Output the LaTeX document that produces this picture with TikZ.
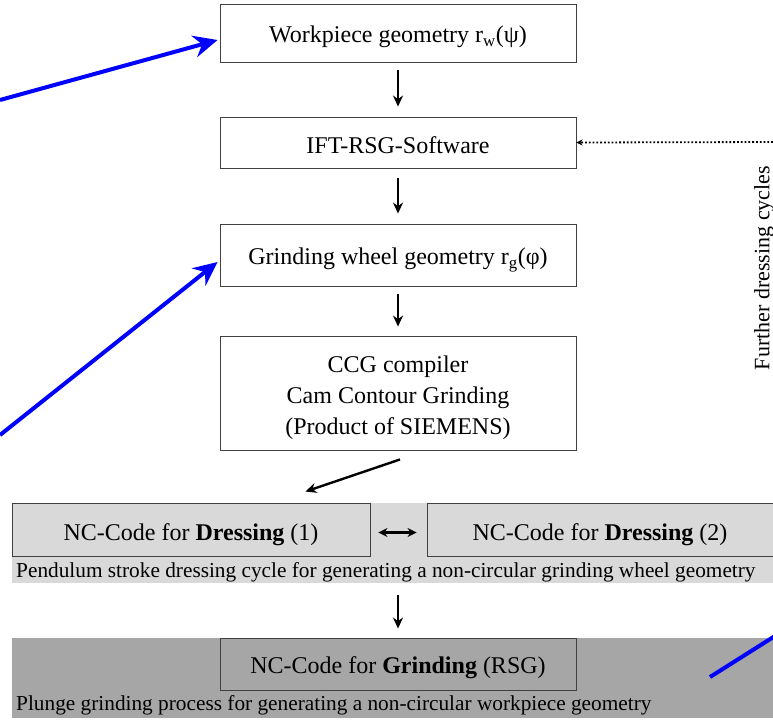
\documentclass[tikz,border=0pt]{standalone}
\usepackage{fontspec}
\setmainfont{Liberation Serif}
\usetikzlibrary{arrows.meta,calc}
\definecolor{bandA}{HTML}{D9D9D9}
\definecolor{bandB}{HTML}{A6A6A6}
\definecolor{edge}{HTML}{404040}
\begin{document}
\begin{tikzpicture}[x=1pt,y=-1pt,
  box/.style={draw=edge, line width=0.9pt, fill=white, minimum width=356pt, inner sep=0pt},
  txt/.style={align=center, inner sep=0pt, font=\fontsize{24}{31}\selectfont},
  blk/.style={line width=2.4pt, -{Stealth[length=11pt,width=10pt]}},
  blu/.style={draw=blue, line width=4pt, -{Stealth[length=24pt,width=22pt,inset=8pt]}},
  note/.style={anchor=west, inner sep=0pt, font=\fontsize{21.3}{24}\selectfont}]
\useasboundingbox (0,0) rectangle (773,721);
% bands
\fill[bandA] (12,503) rectangle (773,583);
\fill[bandB] (12,638) rectangle (773,718);
% main boxes
\node[box, minimum height=58pt, label={[txt, yshift=-4pt]center:Workpiece geometry r\textsubscript{w}(ψ)}] (b1) at (398,33) {};
\node[box, minimum height=51pt, label={[txt, yshift=-3pt]center:IFT-RSG-Software}] (b2) at (398,142.5) {};
\node[box, minimum height=62pt, label={[txt, yshift=-5pt]center:Grinding wheel geometry r\textsubscript{g}(φ)}] (b3) at (398,255) {};
\node[box, minimum height=114pt, label={[txt, yshift=-5pt]center:CCG compiler\\Cam Contour Grinding\\(Product of SIEMENS)}] (b4) at (398,393) {};
\node[box, fill=bandA, minimum width=358pt, minimum height=53pt, label={[txt, yshift=-5pt]center:NC-Code for \textbf{Dressing} (1)}] (d1) at (191,529.5) {};
\node[box, fill=bandA, minimum width=346pt, minimum height=53pt, label={[txt, yshift=-5pt]center:NC-Code for \textbf{Dressing} (2)}] (d2) at (600,529.5) {};
\node[box, fill=bandB, minimum height=52pt, label={[txt, yshift=-4pt]center:NC-Code for \textbf{Grinding} (RSG)}] (g) at (398,664) {};
\node[note] (t1) at (16,572) {Pendulum stroke dressing cycle for generating a non-circular grinding wheel geometry};
\node[note] (t2) at (16,705) {Plunge grinding process for generating a non-circular workpiece geometry};
\node[rotate=90, inner sep=0pt, font=\fontsize{22}{24}\selectfont] (fd) at (764,268) {Further dressing cycles};
% black arrows
\draw[blk, shorten <=8pt, shorten >=10pt] (b1) -- (b2);
\draw[blk, shorten <=10pt, shorten >=10pt] (b2) -- (b3);
\draw[blk, shorten <=8pt, shorten >=9pt] (b3) -- (b4);
\draw[blk] ($(b4.south)+(2,9)$) -- ($(d1.north east)+(-65,-11)$);
\draw[blk, shorten <=13pt, shorten >=9pt] (t1.south -| g.north) -- (g.north);
\draw[line width=2.4pt, {Stealth[length=9pt,width=9pt]}-{Stealth[length=9pt,width=9pt]}] ($(d1.east)+(8,3)$) -- ($(d2.west)+(-10,3)$);
% dotted feedback
\coordinate (fr) at (773,142);
\draw[line width=1.8pt, dotted, -{Stealth[length=6pt,width=6pt]}] (fr) -- (b2.east);
% blue arrows
\coordinate (s1) at (0,100);
\coordinate (s2) at (0,435);
\draw[blu] (s1) -- ($(b1.west)+(-2,7)$);
\draw[blu] (s2) -- ($(b3.west)+(-2,7)$);
\coordinate (s3) at (710,677);
\coordinate (e3) at (775,636);
\draw[draw=blue, line width=4pt] (s3) -- (e3);
\end{tikzpicture}
\end{document}
